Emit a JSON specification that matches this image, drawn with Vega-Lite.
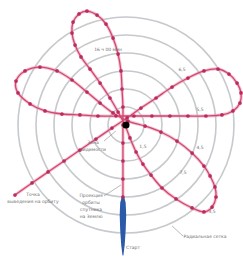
{
  "$schema": "https://vega.github.io/schema/vega-lite/v6.json",
  "width": 243,
  "height": 257,
  "padding": 0,
  "autosize": "none",
  "background": "white",
  "config": {"view": {"stroke": null}},
  "resolve": {"scale": {"size": "independent"}},
  "datasets": {
    "rings": [{"x": 0, "y": 0, "r": 1}, {"x": 0, "y": 0, "r": 2}, {"x": 0, "y": 0, "r": 3}, {"x": 0, "y": 0, "r": 4}, {"x": 0, "y": 0, "r": 5}, {"x": 0, "y": 0, "r": 6}],
    "path": [
      {"i": 1, "x": -0.17, "y": -4.0}, {"i": 2, "x": -0.17, "y": -3.0}, {"i": 3, "x": -0.17, "y": -2.0},
      {"i": 4, "x": -0.17, "y": -1.0}, {"i": 5, "x": -0.17, "y": 0.0}, {"i": 6, "x": -0.17, "y": 1.0},
      {"i": 7, "x": -0.22, "y": 2.0}, {"i": 8, "x": -0.28, "y": 3.0}, {"i": 9, "x": -0.44, "y": 3.94},
      {"i": 10, "x": -0.72, "y": 4.83}, {"i": 11, "x": -1.11, "y": 5.61}, {"i": 12, "x": -1.61, "y": 6.11},
      {"i": 13, "x": -2.17, "y": 6.33}, {"i": 14, "x": -2.61, "y": 6.17}, {"i": 15, "x": -2.94, "y": 5.72},
      {"i": 16, "x": -3.0, "y": 5.11}, {"i": 17, "x": -2.83, "y": 4.44}, {"i": 18, "x": -2.5, "y": 3.78},
      {"i": 19, "x": -2.0, "y": 3.11}, {"i": 20, "x": -1.44, "y": 2.33}, {"i": 21, "x": -0.89, "y": 1.5},
      {"i": 22, "x": -0.44, "y": 0.72}, {"i": 23, "x": -0.06, "y": 0.0}, {"i": 24, "x": 0.22, "y": -0.72},
      {"i": 25, "x": 0.56, "y": -1.5}, {"i": 26, "x": 0.94, "y": -2.17}, {"i": 27, "x": 1.39, "y": -2.78},
      {"i": 28, "x": 2.0, "y": -3.5}, {"i": 29, "x": 2.78, "y": -4.11}, {"i": 30, "x": 3.67, "y": -4.61},
      {"i": 31, "x": 4.33, "y": -4.83}, {"i": 32, "x": 4.78, "y": -4.56}, {"i": 33, "x": 5.0, "y": -4.0},
      {"i": 34, "x": 4.94, "y": -3.44}, {"i": 35, "x": 4.67, "y": -2.83}, {"i": 36, "x": 4.33, "y": -2.28},
      {"i": 37, "x": 3.67, "y": -1.56}, {"i": 38, "x": 2.83, "y": -0.89}, {"i": 39, "x": 1.94, "y": -0.39},
      {"i": 40, "x": 1.06, "y": -0.06}, {"i": 41, "x": 0.11, "y": 0.22}, {"i": 42, "x": -0.72, "y": 0.67},
      {"i": 43, "x": -1.44, "y": 1.22}, {"i": 44, "x": -2.17, "y": 1.83}, {"i": 45, "x": -3.0, "y": 2.5},
      {"i": 46, "x": -3.83, "y": 3.0}, {"i": 47, "x": -4.78, "y": 3.22}, {"i": 48, "x": -5.61, "y": 3.0},
      {"i": 49, "x": -6.11, "y": 2.44}, {"i": 50, "x": -6.0, "y": 1.78}, {"i": 51, "x": -5.33, "y": 1.17},
      {"i": 52, "x": -4.5, "y": 0.78}, {"i": 53, "x": -3.56, "y": 0.61}, {"i": 54, "x": -2.56, "y": 0.56},
      {"i": 55, "x": -1.56, "y": 0.5}, {"i": 56, "x": -0.56, "y": 0.5}, {"i": 57, "x": 0.44, "y": 0.5},
      {"i": 58, "x": 1.44, "y": 0.5}, {"i": 59, "x": 2.44, "y": 0.5}, {"i": 60, "x": 3.44, "y": 0.5},
      {"i": 61, "x": 4.44, "y": 0.5}, {"i": 62, "x": 5.33, "y": 0.56}, {"i": 63, "x": 5.94, "y": 0.78},
      {"i": 64, "x": 6.33, "y": 1.22}, {"i": 65, "x": 6.39, "y": 1.78}, {"i": 66, "x": 6.17, "y": 2.33},
      {"i": 67, "x": 5.72, "y": 2.83}, {"i": 68, "x": 5.11, "y": 3.11}, {"i": 69, "x": 4.33, "y": 3.0},
      {"i": 70, "x": 3.44, "y": 2.61}, {"i": 71, "x": 2.56, "y": 2.11}, {"i": 72, "x": 1.67, "y": 1.5},
      {"i": 73, "x": 0.83, "y": 0.94}, {"i": 74, "x": 0.06, "y": 0.39}, {"i": 75, "x": -0.78, "y": -0.17},
      {"i": 76, "x": -1.67, "y": -0.78}, {"i": 77, "x": -2.56, "y": -1.39}, {"i": 78, "x": -3.44, "y": -2.0},
      {"i": 79, "x": -4.33, "y": -2.61}, {"i": 80, "x": -5.22, "y": -3.22}, {"i": 81, "x": -6.17, "y": -3.89}
    ],
    "rocket": [
      {"x": -0.17, "y": -3.94, "w": 2}, {"x": -0.17, "y": -4.33, "w": 5.5},
      {"x": -0.17, "y": -5.0, "w": 6.5}, {"x": -0.17, "y": -5.83, "w": 5.5},
      {"x": -0.17, "y": -6.67, "w": 3.5}, {"x": -0.17, "y": -7.22, "w": 1}
    ],
    "labels": [
      {"x": -1.0, "y": 4.17, "t": "16 ч 00 мин"},
      {"x": 3.11, "y": 3.06, "t": "6,5"},
      {"x": 4.11, "y": 0.83, "t": "5,5"},
      {"x": 4.11, "y": -1.28, "t": "4,5"},
      {"x": 0.94, "y": -1.22, "t": "1,5"},
      {"x": 3.17, "y": -2.67, "t": "7,5"},
      {"x": 4.78, "y": -4.83, "t": "3,5"},
      {"x": -1.83, "y": -1.0, "t": "Зона"},
      {"x": -1.83, "y": -1.39, "t": "видимости"},
      {"x": -5.17, "y": -3.89, "t": "Точка"},
      {"x": -5.17, "y": -4.28, "t": "выведения на орбиту"},
      {"x": -1.94, "y": -3.94, "t": "Проекция"},
      {"x": -1.94, "y": -4.33, "t": "орбиты"},
      {"x": -1.94, "y": -4.72, "t": "спутника"},
      {"x": -1.94, "y": -5.11, "t": "на Землю"},
      {"x": 4.39, "y": -6.22, "t": "Радиальная сетка"},
      {"x": 0.39, "y": -6.83, "t": "Старт"}
    ],
    "leaders": [
      {"x": -1.22, "y": -3.94, "x2": -0.28, "y2": -3.33},
      {"x": -1.22, "y": -0.89, "x2": -0.56, "y2": -0.33},
      {"x": 3.17, "y": -6.17, "x2": 2.56, "y2": -5.61}
    ],
    "center": [{"x": 0, "y": 0}]
  },
  "layer": [
    {
      "data": {"name": "rings"},
      "mark": {"type": "point", "shape": "circle", "filled": false, "stroke": "#c6c9cd", "strokeWidth": 1.6, "opacity": 1},
      "encoding": {
        "x": {"field": "x", "type": "quantitative", "scale": {"domain": [-7, 6.5]}, "axis": null},
        "y": {"field": "y", "type": "quantitative", "scale": {"domain": [-7.333, 6.944]}, "axis": null},
        "size": {"field": "r", "type": "quantitative", "scale": {"type": "pow", "exponent": 2, "domain": [0, 6], "range": [0, 46656]}, "legend": null}
      }
    },
    {
      "data": {"name": "leaders"},
      "mark": {"type": "rule", "stroke": "#8a8a8a", "strokeWidth": 0.6},
      "encoding": {
        "x": {"field": "x", "type": "quantitative", "scale": {"domain": [-7, 6.5]}, "axis": null},
        "y": {"field": "y", "type": "quantitative", "scale": {"domain": [-7.333, 6.944]}, "axis": null},
        "x2": {"field": "x2"},
        "y2": {"field": "y2"}
      }
    },
    {
      "data": {"name": "rocket"},
      "mark": {"type": "trail", "color": "#2a5aa8"},
      "encoding": {
        "x": {"field": "x", "type": "quantitative", "scale": {"domain": [-7, 6.5]}, "axis": null},
        "y": {"field": "y", "type": "quantitative", "scale": {"domain": [-7.333, 6.944]}, "axis": null},
        "order": {"field": "y", "sort": "descending"},
        "size": {"field": "w", "type": "quantitative", "scale": {"domain": [0, 7], "range": [0, 7]}, "legend": null}
      }
    },
    {
      "data": {"name": "path"},
      "mark": {"type": "line", "interpolate": "cardinal", "stroke": "#e8a2b8", "strokeWidth": 3.2, "opacity": 0.6},
      "encoding": {
        "x": {"field": "x", "type": "quantitative", "scale": {"domain": [-7, 6.5]}, "axis": null},
        "y": {"field": "y", "type": "quantitative", "scale": {"domain": [-7.333, 6.944]}, "axis": null},
        "order": {"field": "i"}
      }
    },
    {
      "data": {"name": "path"},
      "mark": {"type": "line", "interpolate": "cardinal", "stroke": "#d4466f", "strokeWidth": 1.3},
      "encoding": {
        "x": {"field": "x", "type": "quantitative", "scale": {"domain": [-7, 6.5]}, "axis": null},
        "y": {"field": "y", "type": "quantitative", "scale": {"domain": [-7.333, 6.944]}, "axis": null},
        "order": {"field": "i"}
      }
    },
    {
      "data": {"name": "path"},
      "mark": {"type": "point", "filled": true, "color": "#b8245a", "size": 14, "opacity": 0.9},
      "encoding": {
        "x": {"field": "x", "type": "quantitative", "scale": {"domain": [-7, 6.5]}, "axis": null},
        "y": {"field": "y", "type": "quantitative", "scale": {"domain": [-7.333, 6.944]}, "axis": null}
      }
    },
    {
      "data": {"name": "center"},
      "mark": {"type": "point", "filled": true, "color": "#000000", "size": 50, "opacity": 1},
      "encoding": {
        "x": {"field": "x", "type": "quantitative", "scale": {"domain": [-7, 6.5]}, "axis": null},
        "y": {"field": "y", "type": "quantitative", "scale": {"domain": [-7.333, 6.944]}, "axis": null}
      }
    },
    {
      "data": {"name": "labels"},
      "mark": {"type": "text", "font": "DejaVu Sans", "fontSize": 4.5, "color": "#6f6f6f", "align": "center", "baseline": "middle"},
      "encoding": {
        "x": {"field": "x", "type": "quantitative", "scale": {"domain": [-7, 6.5]}, "axis": null},
        "y": {"field": "y", "type": "quantitative", "scale": {"domain": [-7.333, 6.944]}, "axis": null},
        "text": {"field": "t"}
      }
    }
  ]
}
